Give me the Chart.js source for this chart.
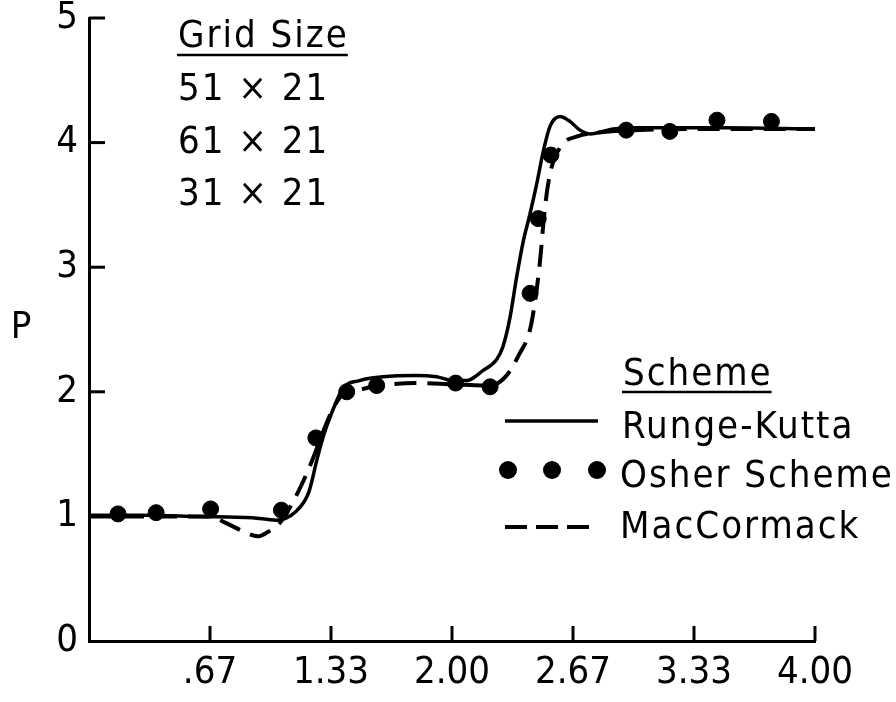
<!DOCTYPE html>
<html>
<head>
<meta charset="utf-8">
<script src="https://cdn.jsdelivr.net/npm/chart.js@4/dist/chart.umd.min.js"></script>
<style>
html,body{margin:0;padding:0;background:#fff;}
#wrap{width:896px;height:702px;position:relative;}
</style>
</head>
<body>
<div id="wrap"><canvas id="c" width="896" height="702"></canvas></div>
<script>
// ---- data ----
const rkX = [0, 0.3, 0.6, 0.9, 1.03, 1.14, 1.21, 1.255, 1.29, 1.337, 1.40, 1.49, 1.62, 1.80, 1.915, 2.01, 2.08, 2.17, 2.246, 2.28, 2.32, 2.356, 2.39, 2.43, 2.467, 2.50, 2.54, 2.595, 2.65, 2.705, 2.76, 2.89, 3.0, 3.5, 4.0];
const rkY = [1.01, 1.01, 1.0, 0.99, 0.97, 1.04, 1.19, 1.45, 1.64, 1.83, 2.03, 2.09, 2.12, 2.13, 2.12, 2.09, 2.09, 2.17, 2.26, 2.36, 2.60, 2.92, 3.19, 3.43, 3.67, 3.91, 4.13, 4.21, 4.17, 4.10, 4.07, 4.11, 4.12, 4.12, 4.11];

const osherX = [0.16, 0.37, 0.67, 1.06, 1.25, 1.42, 1.585, 2.02, 2.21, 2.43, 2.475, 2.545, 2.96, 3.20, 3.46, 3.76];
const osherY = [1.02, 1.03, 1.06, 1.05, 1.63, 2.0, 2.05, 2.07, 2.04, 2.79, 3.39, 3.9, 4.10, 4.09, 4.18, 4.17];

const macX = [0, 0.33, 0.67, 0.75, 0.85, 0.93, 0.98, 1.05, 1.11, 1.17, 1.23, 1.29, 1.35, 1.40, 1.50, 1.60, 1.80, 2.00, 2.21, 2.30, 2.37, 2.43, 2.46, 2.485, 2.51, 2.54, 2.60, 2.69, 2.80, 3.00, 3.50, 4.00];
const macY = [1.0, 1.0, 1.0, 0.95, 0.88, 0.84, 0.87, 0.945, 1.08, 1.25, 1.45, 1.68, 1.88, 1.98, 2.02, 2.05, 2.07, 2.06, 2.05, 2.13, 2.30, 2.50, 2.75, 3.05, 3.45, 3.75, 3.97, 4.05, 4.08, 4.10, 4.11, 4.11];

const xTickValues = [2/3, 4/3, 2, 8/3, 10/3, 4];
const xTickLabels = ['.67', '1.33', '2.00', '2.67', '3.33', '4.00'];
const yTickValues = [0, 1, 2, 3, 4, 5];
const yTickLabels = ['0', '1', '2', '3', '4', '5'];

const seriesNames = ['Runge-Kutta', 'Osher Scheme', 'MacCormack'];
const gridTitle = 'Grid Size';
const gridSizes = ['51 \u00d7 21', '61 \u00d7 21', '31 \u00d7 21'];
const legendTitle = 'Scheme';
const yAxisLabel = 'P';

const FONT = "'DejaVu Sans Condensed', 'Liberation Sans Narrow', 'DejaVu Sans', sans-serif";

const toXY = (xs, ys) => xs.map((x, i) => ({x: x, y: ys[i]}));

const overlay = {
  id: 'overlay',
  afterDraw(chart) {
    const ctx = chart.ctx;
    const xs = chart.scales.x, ys = chart.scales.y;
    ctx.save();
    ctx.strokeStyle = '#000';
    ctx.fillStyle = '#000';
    // inward tick marks
    ctx.lineWidth = 3;
    const y0 = ys.getPixelForValue(0), x0 = xs.getPixelForValue(0);
    xTickValues.forEach(v => {
      const p = xs.getPixelForValue(v);
      ctx.beginPath(); ctx.moveTo(p, y0); ctx.lineTo(p, y0 - 15); ctx.stroke();
    });
    yTickValues.forEach(v => {
      if (v === 0) return;
      const p = ys.getPixelForValue(v);
      ctx.beginPath(); ctx.moveTo(x0, p); ctx.lineTo(x0 + 16, p); ctx.stroke();
    });
    // y axis label
    ctx.font = '38px ' + FONT;
    ctx.textAlign = 'center';
    ctx.textBaseline = 'middle';
    ctx.fillText(yAxisLabel, 21, 328);

    ctx.letterSpacing = '2px';
    ctx.textAlign = 'left';
    ctx.textBaseline = 'alphabetic';
    // grid size block
    ctx.fillText(gridTitle, 178, 47);
    let w = ctx.measureText(gridTitle).width;
    ctx.lineWidth = 2.5;
    ctx.beginPath(); ctx.moveTo(177, 55); ctx.lineTo(177 + w, 55); ctx.stroke();
    const gy = [100, 153, 205];
    gridSizes.forEach((s, i) => ctx.fillText(s, 178, gy[i]));

    // legend
    ctx.fillText(legendTitle, 623, 385);
    w = ctx.measureText(legendTitle).width;
    ctx.beginPath(); ctx.moveTo(622, 392); ctx.lineTo(622 + w, 392); ctx.stroke();
    const ds = chart.data.datasets;
    // Runge-Kutta sample
    ctx.lineWidth = ds[0].borderWidth;
    ctx.beginPath(); ctx.moveTo(505, 421); ctx.lineTo(598, 421); ctx.stroke();
    ctx.fillText(ds[0].label, 622, 438);
    // Osher sample
    [508, 552, 597].forEach(cx => { ctx.beginPath(); ctx.arc(cx, 470, 9, 0, Math.PI * 2); ctx.fill(); });
    ctx.fillText(ds[1].label, 620, 487);
    // MacCormack sample
    ctx.lineWidth = ds[2].borderWidth;
    ctx.setLineDash([22, 9]);
    ctx.beginPath(); ctx.moveTo(505, 527); ctx.lineTo(598, 527); ctx.stroke();
    ctx.setLineDash([]);
    ctx.fillText(ds[2].label, 620, 538);
    ctx.restore();
  }
};

new Chart(document.getElementById('c'), {
  type: 'scatter',
  data: {
    datasets: [
      { label: seriesNames[0], data: toXY(rkX, rkY), showLine: true, borderColor: '#000', borderWidth: 3.5,
        pointRadius: 0, cubicInterpolationMode: 'monotone', fill: false },
      { label: seriesNames[1], data: toXY(osherX, osherY), showLine: false, backgroundColor: '#000',
        borderColor: '#000', pointRadius: 8, pointHoverRadius: 8 },
      { label: seriesNames[2], data: toXY(macX, macY), showLine: true, borderColor: '#000', borderWidth: 4,
        borderDash: [22, 11], pointRadius: 0, cubicInterpolationMode: 'monotone', fill: false }
    ]
  },
  options: {
    responsive: false,
    animation: false,
    devicePixelRatio: 1,
    layout: { padding: { top: 18, right: 81, left: 0, bottom: 0 } },
    plugins: { legend: { display: false }, tooltip: { enabled: false } },
    scales: {
      x: {
        type: 'linear', min: 0, max: 4,
        afterBuildTicks: s => { s.ticks = xTickValues.map(v => ({ value: v })); },
        afterFit: s => { s.height = 61; s.paddingLeft = 0; s.paddingRight = 0; },
        grid: { display: false },
        border: { display: true, color: '#000', width: 3 },
        ticks: { color: '#000', font: { family: FONT, size: 38 }, padding: 1, maxRotation: 0, autoSkip: false,
          callback: (v, i) => xTickLabels[i] }
      },
      y: {
        type: 'linear', min: 0, max: 5,
        afterBuildTicks: s => { s.ticks = yTickValues.map(v => ({ value: v })); },
        afterFit: s => { s.width = 89; s.paddingTop = 0; s.paddingBottom = 0; },
        grid: { display: false },
        border: { display: true, color: '#000', width: 3 },
        ticks: { color: '#000', font: { family: FONT, size: 38 }, padding: 3, autoSkip: false,
          callback: (v, i) => yTickLabels[i] }
      }
    }
  },
  plugins: [overlay]
});
</script>
</body>
</html>
